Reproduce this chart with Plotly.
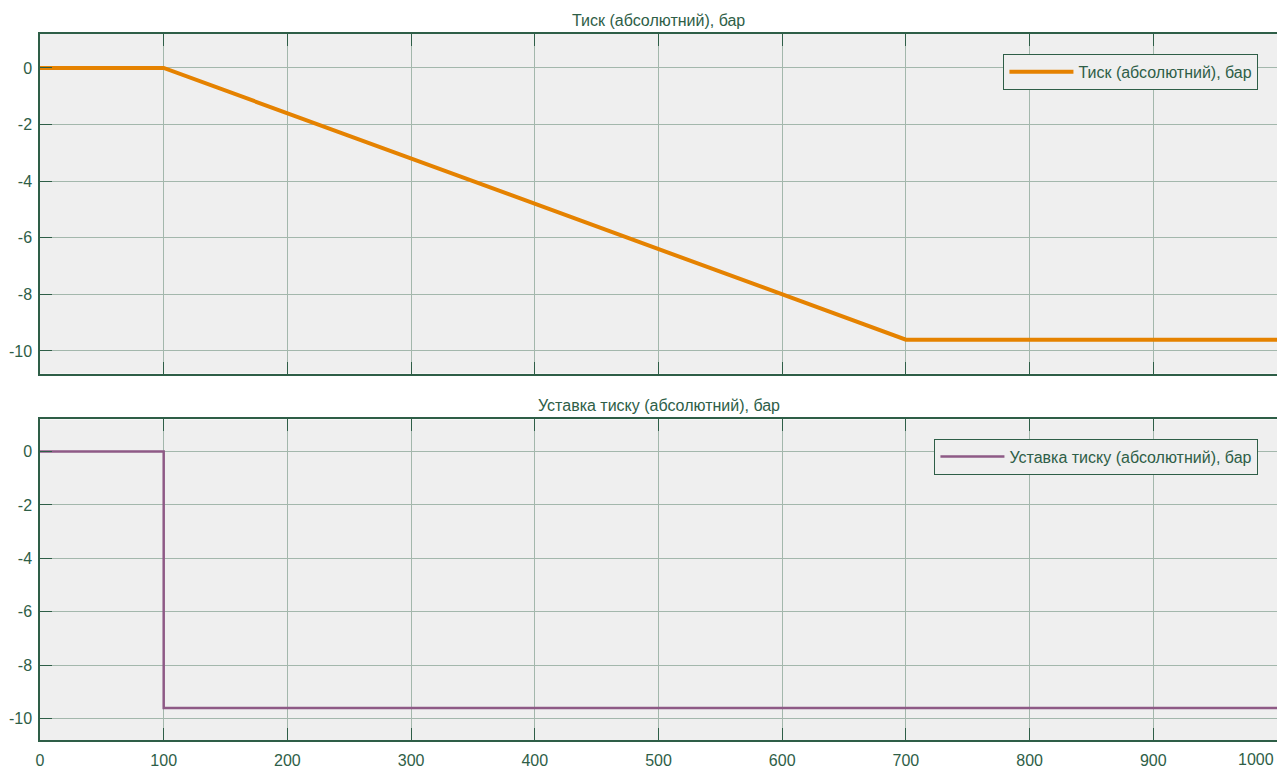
import plotly.graph_objects as go

# Pressure (absolute) and its setpoint over time
time_pts = [0, 100, 700, 1000]
pressure = [0, 0, -9.6, -9.6]

setpoint_time = [0, 100, 1000]
setpoint = [0, -9.6, -9.6]

x_ticks = [0, 100, 200, 300, 400, 500, 600, 700, 800, 900, 1000]
y_ticks = [0, -2, -4, -6, -8, -10]
y_tick_text = ["0", "-2", "-4", "-6", "-8", "-10"]

title_top = "Тиск (абсолютний), бар"
title_bottom = "Уставка тиску (абсолютний), бар"

TEXT = "#2E5E47"
FRAME = "#2E5E47"
GRID = "#A3B7AC"
BG = "#EFEFEF"
ORANGE = "#E58200"
PURPLE = "#8E5A86"
FONT = "Liberation Sans, Arial, sans-serif"
FS = 16

fig = go.Figure()

fig.add_trace(go.Scatter(
    x=time_pts, y=pressure, mode="lines", name=title_top,
    line=dict(color=ORANGE, width=4), xaxis="x", yaxis="y", legend="legend",
))
fig.add_trace(go.Scatter(
    x=setpoint_time, y=setpoint, mode="lines", name=title_bottom,
    line=dict(color=PURPLE, width=2.5, shape="hv"), xaxis="x2", yaxis="y2",
    legend="legend2",
))

grid_common = dict(
    showgrid=True, gridcolor=GRID, gridwidth=1,
    showline=True, linecolor=FRAME, linewidth=1.5,
    ticks="inside", ticklen=12, tickcolor=FRAME, tickwidth=1,
    zeroline=False,
    tickfont=dict(family=FONT, size=FS, color=TEXT),
)
x_common = dict(grid_common, mirror="ticks", range=[0, 1000], tickvals=x_ticks,
                domain=[0, 1], ticklabelstandoff=5)
y_common = dict(grid_common, mirror=False, range=[-10.8, 1.2], tickvals=y_ticks,
                ticktext=y_tick_text, ticklabelstandoff=3)

legend_common = dict(
    xanchor="right", yanchor="top", bgcolor=BG, bordercolor=FRAME,
    borderwidth=1, font=dict(family=FONT, size=FS, color=TEXT), itemwidth=64,
)

fig.update_layout(
    width=1277, height=769,
    margin=dict(l=40, r=0, t=34, b=26),
    paper_bgcolor="white", plot_bgcolor=BG,
    font=dict(family=FONT, size=FS, color=TEXT),
    xaxis=dict(x_common, showticklabels=False, anchor="y"),
    yaxis=dict(y_common, domain=[0.519, 1], anchor="x"),
    xaxis2=dict(x_common, anchor="y2"),
    yaxis2=dict(y_common, domain=[0, 0.454], anchor="x2"),
    legend=dict(legend_common, x=0.985, y=0.972),
    legend2=dict(legend_common, x=0.985, y=0.427),
    showlegend=True,
    annotations=[
        dict(text=title_top, xref="paper", yref="paper", x=0.5, y=1,
             yanchor="bottom", xanchor="center", showarrow=False, yshift=3,
             font=dict(family=FONT, size=FS, color=TEXT)),
        dict(text=title_bottom, xref="paper", yref="paper", x=0.5, y=0.454,
             yanchor="bottom", xanchor="center", showarrow=False, yshift=3,
             font=dict(family=FONT, size=FS, color=TEXT)),
        # last x tick label, right-aligned so it stays inside the page
        dict(text=str(x_ticks[-1]), xref="x2", yref="paper", x=x_ticks[-1],
             y=0, xanchor="right", yanchor="top", showarrow=False,
             xshift=-1, yshift=-9,
             font=dict(family=FONT, size=FS, color=TEXT)),
    ],
)

fig.write_html("out.html")
